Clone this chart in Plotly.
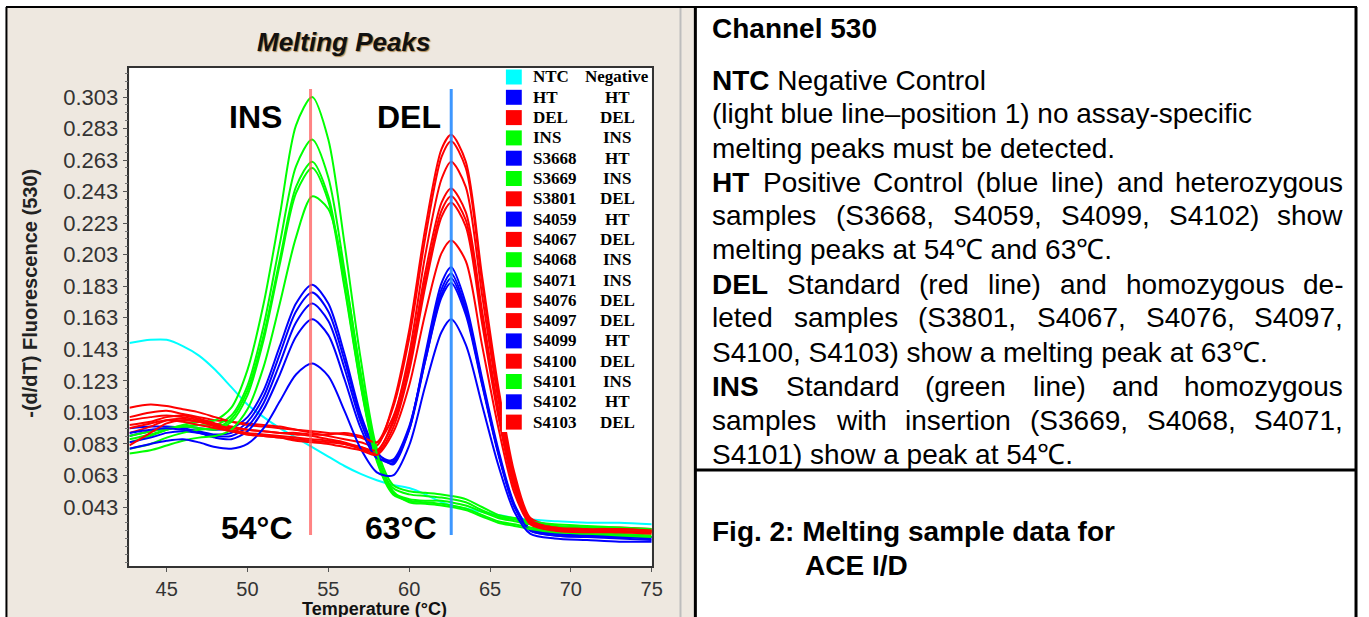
import plotly.graph_objects as go

W, H = 1369, 617

# ---------------- data ----------------
temps = [42.7, 44, 45, 46, 47, 48, 49, 50, 51, 52, 53, 54, 55, 56, 57, 58, 59, 60, 61, 62,
         62.6, 63.5, 64.5, 65.5, 66.5, 67.5, 69, 71, 73, 75]

ntc   = [0.147, 0.149, 0.149, 0.145, 0.139, 0.130, 0.119, 0.108, 0.100, 0.093, 0.087, 0.081, 0.075, 0.069, 0.064, 0.060, 0.057, 0.055, 0.051, 0.046, 0.044, 0.042, 0.040, 0.038, 0.036, 0.035, 0.034, 0.033, 0.033, 0.032]
ht    = [0.088, 0.091, 0.093, 0.094, 0.093, 0.092, 0.093, 0.100, 0.117, 0.145, 0.172, 0.184, 0.172, 0.140, 0.102, 0.078, 0.070, 0.092, 0.140, 0.185, 0.195, 0.172, 0.125, 0.080, 0.045, 0.029, 0.026, 0.025, 0.025, 0.024]
dele  = [0.100, 0.103, 0.104, 0.102, 0.100, 0.098, 0.097, 0.096, 0.095, 0.094, 0.092, 0.090, 0.088, 0.086, 0.084, 0.082, 0.108, 0.155, 0.220, 0.270, 0.279, 0.262, 0.190, 0.120, 0.065, 0.036, 0.031, 0.030, 0.030, 0.029]
ins   = [0.084, 0.088, 0.092, 0.095, 0.097, 0.098, 0.106, 0.130, 0.172, 0.228, 0.285, 0.303, 0.276, 0.210, 0.137, 0.080, 0.057, 0.053, 0.052, 0.051, 0.050, 0.048, 0.043, 0.038, 0.036, 0.034, 0.032, 0.031, 0.030, 0.029]
s3668 = [0.093, 0.094, 0.094, 0.093, 0.091, 0.089, 0.090, 0.097, 0.113, 0.140, 0.167, 0.179, 0.167, 0.136, 0.100, 0.077, 0.072, 0.092, 0.136, 0.178, 0.188, 0.167, 0.122, 0.078, 0.044, 0.029, 0.026, 0.025, 0.025, 0.024]
s3669 = [0.086, 0.089, 0.092, 0.094, 0.095, 0.095, 0.101, 0.120, 0.158, 0.210, 0.259, 0.276, 0.252, 0.193, 0.127, 0.076, 0.055, 0.051, 0.050, 0.049, 0.048, 0.046, 0.041, 0.037, 0.035, 0.033, 0.031, 0.030, 0.029, 0.028]
s3801 = [0.106, 0.108, 0.107, 0.105, 0.103, 0.100, 0.097, 0.095, 0.094, 0.093, 0.092, 0.091, 0.090, 0.089, 0.087, 0.084, 0.106, 0.150, 0.214, 0.265, 0.275, 0.258, 0.186, 0.116, 0.062, 0.035, 0.030, 0.029, 0.029, 0.028]
s4059 = [0.084, 0.087, 0.090, 0.091, 0.090, 0.088, 0.088, 0.094, 0.109, 0.134, 0.160, 0.172, 0.161, 0.131, 0.097, 0.075, 0.071, 0.093, 0.138, 0.181, 0.191, 0.169, 0.123, 0.078, 0.044, 0.028, 0.025, 0.024, 0.024, 0.023]
s4067 = [0.095, 0.097, 0.100, 0.101, 0.099, 0.096, 0.094, 0.092, 0.091, 0.090, 0.089, 0.088, 0.086, 0.084, 0.081, 0.078, 0.098, 0.140, 0.203, 0.251, 0.262, 0.246, 0.178, 0.112, 0.060, 0.034, 0.030, 0.029, 0.028, 0.028]
s4068 = [0.080, 0.083, 0.087, 0.090, 0.092, 0.093, 0.099, 0.117, 0.152, 0.200, 0.246, 0.262, 0.240, 0.184, 0.121, 0.073, 0.052, 0.048, 0.047, 0.047, 0.046, 0.044, 0.040, 0.036, 0.034, 0.032, 0.030, 0.029, 0.028, 0.027]
s4071 = [0.088, 0.091, 0.093, 0.094, 0.093, 0.092, 0.097, 0.114, 0.149, 0.197, 0.242, 0.258, 0.237, 0.182, 0.120, 0.072, 0.051, 0.047, 0.046, 0.045, 0.044, 0.042, 0.038, 0.034, 0.032, 0.030, 0.028, 0.027, 0.026, 0.025]
s4076 = [0.098, 0.100, 0.101, 0.100, 0.098, 0.095, 0.093, 0.092, 0.091, 0.090, 0.090, 0.089, 0.089, 0.090, 0.088, 0.084, 0.100, 0.136, 0.192, 0.236, 0.245, 0.230, 0.168, 0.106, 0.058, 0.034, 0.030, 0.029, 0.029, 0.028]
s4097 = [0.090, 0.094, 0.098, 0.099, 0.097, 0.094, 0.091, 0.089, 0.088, 0.087, 0.086, 0.085, 0.084, 0.083, 0.081, 0.079, 0.096, 0.132, 0.187, 0.231, 0.240, 0.225, 0.164, 0.104, 0.057, 0.033, 0.029, 0.028, 0.028, 0.027]
s4099 = [0.090, 0.092, 0.093, 0.092, 0.090, 0.087, 0.086, 0.091, 0.105, 0.127, 0.151, 0.162, 0.152, 0.124, 0.093, 0.074, 0.073, 0.094, 0.136, 0.176, 0.185, 0.165, 0.121, 0.077, 0.043, 0.028, 0.025, 0.024, 0.023, 0.022]
s4100 = [0.082, 0.090, 0.096, 0.098, 0.097, 0.095, 0.092, 0.090, 0.089, 0.088, 0.087, 0.086, 0.085, 0.083, 0.080, 0.077, 0.093, 0.129, 0.183, 0.227, 0.236, 0.221, 0.160, 0.101, 0.055, 0.033, 0.029, 0.028, 0.027, 0.027]
s4101 = [0.077, 0.079, 0.082, 0.085, 0.087, 0.088, 0.092, 0.105, 0.132, 0.172, 0.214, 0.240, 0.232, 0.190, 0.128, 0.077, 0.053, 0.046, 0.045, 0.044, 0.043, 0.041, 0.037, 0.033, 0.031, 0.029, 0.027, 0.026, 0.025, 0.024]
s4102 = [0.080, 0.083, 0.085, 0.086, 0.084, 0.081, 0.080, 0.083, 0.093, 0.110, 0.127, 0.134, 0.126, 0.104, 0.080, 0.065, 0.063, 0.082, 0.120, 0.154, 0.162, 0.146, 0.108, 0.070, 0.040, 0.026, 0.023, 0.022, 0.021, 0.021]
s4103 = [0.093, 0.096, 0.098, 0.097, 0.095, 0.093, 0.091, 0.089, 0.088, 0.087, 0.085, 0.084, 0.083, 0.081, 0.079, 0.076, 0.090, 0.120, 0.166, 0.204, 0.212, 0.199, 0.146, 0.094, 0.052, 0.032, 0.028, 0.027, 0.027, 0.026]

sample_names = ["NTC", "HT", "DEL", "INS", "S3668", "S3669", "S3801", "S4059", "S4067",
                "S4068", "S4071", "S4076", "S4097", "S4099", "S4100", "S4101", "S4102", "S4103"]
genotypes = ["Negative", "HT", "DEL", "INS", "HT", "INS", "DEL", "HT", "DEL",
             "INS", "INS", "DEL", "DEL", "HT", "DEL", "INS", "HT", "DEL"]
series = [ntc, ht, dele, ins, s3668, s3669, s3801, s4059, s4067,
          s4068, s4071, s4076, s4097, s4099, s4100, s4101, s4102, s4103]

genotype_colors = {"Negative": "#00FFFF", "HT": "#0000FF", "DEL": "#FF0000", "INS": "#00FF00"}

peak_temps = [53.9, 62.6]
peak_labels = ["54°C", "63°C"]
peak_colors = ["rgba(255,80,80,0.7)", "rgba(40,140,255,0.9)"]
peak_line_span = [0.0252, 0.308]

x_ticks = [45, 50, 55, 60, 65, 70, 75]
y_ticks = [0.043, 0.063, 0.083, 0.103, 0.123, 0.143, 0.163, 0.183, 0.203, 0.223, 0.243, 0.263, 0.283, 0.303]
y_tick_text = ["0.043", "0.063", "0.083", "0.103", "0.123", "0.143", "0.163", "0.183", "0.203",
               "0.223", "0.243", "0.263", "0.283", "0.303"]

# ---------------- helpers ----------------
def px(x):
    return x / W

def py(y):
    return 1 - y / H

SANS = "Liberation Sans, Arial, sans-serif"
SERIF = "Liberation Serif, Times New Roman, serif"

REG = dict(zip("abcdefghijklmnopqrstuvwxyz",
               [556, 556, 500, 556, 556, 278, 556, 556, 222, 222, 500, 222, 833, 556, 556, 556, 556, 333, 500, 278, 556, 500, 722, 500, 500, 500]))
REG.update(zip("ABCDEFGHIJKLMNOPQRSTUVWXYZ",
               [667, 667, 722, 722, 667, 611, 778, 722, 278, 500, 667, 556, 833, 722, 778, 667, 778, 722, 667, 611, 722, 667, 944, 667, 667, 611]))
REG.update({c: 556 for c in "0123456789"})
REG.update({" ": 278, "(": 333, ")": 333, ",": 278, ".": 278, "-": 333, "–": 556, "/": 278})
BOLD = dict(zip("abcdefghijklmnopqrstuvwxyz",
                [556, 611, 556, 611, 556, 333, 611, 611, 278, 278, 556, 278, 889, 611, 611, 611, 611, 389, 556, 333, 611, 556, 778, 556, 556, 500]))
BOLD.update(zip("ABCDEFGHIJKLMNOPQRSTUVWXYZ",
                [722, 722, 722, 722, 667, 611, 778, 722, 278, 556, 722, 611, 833, 722, 778, 667, 778, 722, 667, 611, 722, 667, 944, 667, 667, 611]))
BOLD.update({c: 556 for c in "0123456789"})
BOLD.update({" ": 278, "(": 333, ")": 333, ",": 278, ".": 278, "-": 333})


def text_w(s, bold, size):
    table = BOLD if bold else REG
    return sum(table.get(c, 556) for c in s) / 1000 * size


def pann(text, x, y, size, family=SANS, xanchor="center", yanchor="middle", **kw):
    return dict(text=text, x=px(x), y=py(y), xref="paper", yref="paper", xanchor=xanchor,
                yanchor=yanchor, showarrow=False, borderpad=0, borderwidth=0,
                font=dict(family=family, size=size, color=kw.pop("color", "black"), **kw.pop("fkw", {})),
                **kw)


# ---------------- figure ----------------
fig = go.Figure()

for name, geno, ys in zip(sample_names, genotypes, series):
    fig.add_trace(go.Scatter(x=temps, y=ys, mode="lines", name=name,
                             line=dict(color=genotype_colors[geno], width=2, shape="spline", smoothing=0.8),
                             showlegend=False, hoverinfo="skip"))

for t, c in zip(peak_temps, peak_colors):
    fig.add_trace(go.Scatter(x=[t, t], y=peak_line_span, mode="lines",
                             line=dict(color=c, width=3), showlegend=False, hoverinfo="skip"))

PLOT_L, PLOT_R, PLOT_T, PLOT_B = 130.5, 657, 68, 566

shapes = []
shapes.append(dict(type="rect", xref="paper", yref="paper", x0=px(6), x1=px(700), y0=0, y1=py(8),
                   fillcolor="#EEE8E0", line=dict(width=0), layer="below"))
shapes.append(dict(type="rect", xref="paper", yref="paper", x0=px(PLOT_L), x1=px(PLOT_R),
                   y0=py(PLOT_B), y1=py(PLOT_T), fillcolor="white", line=dict(width=0), layer="below"))
shapes.append(dict(type="line", xref="paper", yref="paper", x0=px(686), x1=px(686), y0=0, y1=py(8),
                   line=dict(color="#BDBDBD", width=2), layer="below"))
for (x0, y0, x1, y1, w) in [(6, 7, 1368, 7, 2), (6.5, 7, 6.5, 617, 2), (701, 7, 701, 617, 3),
                            (1367, 7, 1367, 617, 3), (701, 470, 1367, 470, 3)]:
    shapes.append(dict(type="line", xref="paper", yref="paper", x0=px(x0), x1=px(x1), y0=py(y0), y1=py(y1),
                       line=dict(color="black", width=w)))
shapes.append(dict(type="rect", xref="paper", yref="paper", x0=px(506), x1=px(656), y0=py(432), y1=py(69),
                   fillcolor="white", line=dict(width=0), layer="above"))

annotations = []
row0, drow = 77, 20.3
for i, (name, geno) in enumerate(zip(sample_names, genotypes)):
    yc = row0 + i * drow
    shapes.append(dict(type="rect", xref="paper", yref="paper", x0=px(510), x1=px(526),
                       y0=py(yc + 7.5), y1=py(yc - 7.5), fillcolor=genotype_colors[geno],
                       line=dict(width=0), layer="above"))
    annotations.append(pann(f"<b>{name}</b>", 537, yc, 17, family=SERIF, xanchor="left"))
    annotations.append(pann(f"<b>{geno}</b>", 622, yc, 17, family=SERIF))

# chart labels
annotations.append(pann("<b><i>Melting Peaks</i></b>", 346, 42, 26, color="#111",
                        fkw=dict(shadow="1px 1px 1px rgba(150,95,20,0.7)")))
annotations.append(pann("<b>-(d/dT) Fluorescence (530)</b>", 30, 293, 20, color="#222", textangle=-90))
annotations.append(pann("<b>Temperature (°C)</b>", 378, 609, 18, color="#111"))
annotations.append(dict(text="<b>INS</b>", x=50.5, y=0.2903, xref="x", yref="y", showarrow=False,
                        xanchor="center", yanchor="middle",
                        font=dict(family=SANS, size=32, color="black")))
annotations.append(dict(text="<b>DEL</b>", x=60.0, y=0.2903, xref="x", yref="y", showarrow=False,
                        xanchor="center", yanchor="middle",
                        font=dict(family=SANS, size=32, color="black")))
for t, lab in zip([50.6, 59.5], peak_labels):
    annotations.append(dict(text=f"<b>{lab}</b>", x=t, y=0.0297, xref="x", yref="y", showarrow=False,
                            xanchor="center", yanchor="middle",
                            font=dict(family=SANS, size=32, color="black")))

# right text panel
RS = 28
LX, RX = 718, 1354
panel_lines = [
    (80, [("NTC", True), ("Negative", False), ("Control", False)], False),
    (114, [(w, False) for w in "(light blue line–position 1) no assay-specific".split(" ")], False),
    (148, [(w, False) for w in "melting peaks must be detected.".split(" ")], False),
    (182, [("HT", True)] + [(w, False) for w in "Positive Control (blue line) and heterozygous".split(" ")], True),
    (216, [(w, False) for w in "samples (S3668, S4059, S4099, S4102) show".split(" ")], True),
    (250, [(w, False) for w in "melting peaks at 54℃ and 63℃.".split(" ")], False),
    (284, [("DEL", True)] + [(w, False) for w in "Standard (red line) and homozygous de-".split(" ")], True),
    (318, [(w, False) for w in "leted samples (S3801, S4067, S4076, S4097,".split(" ")], True),
    (352, [(w, False) for w in "S4100, S4103) show a melting peak at 63℃.".split(" ")], False),
    (386, [("INS", True)] + [(w, False) for w in "Standard (green line) and homozygous".split(" ")], True),
    (420, [(w, False) for w in "samples with insertion (S3669, S4068, S4071,".split(" ")], True),
    (454, [(w, False) for w in "S4101) show a peak at 54℃.".split(" ")], False),
]

def tag(w, b):
    return f"<b>{w}</b>" if b else w

for yc, words, justify in panel_lines:
    if not justify:
        txt = " ".join(tag(w, b) for w, b in words)
        annotations.append(pann(txt, LX, yc, RS, xanchor="left"))
    else:
        widths = [text_w(w, b, RS) for w, b in words]
        gap = (RX - LX - sum(widths)) / (len(words) - 1)
        x = LX
        for k, ((w, b), ww) in enumerate(zip(words, widths)):
            last = k == len(words) - 1
            annotations.append(pann(tag(w, b), RX if last else x, yc, RS,
                                    xanchor="right" if last else "left"))
            x += ww + gap

annotations.append(pann("<b>Channel 530</b>", LX, 29, RS, xanchor="left"))
annotations.append(pann("<b>Fig. 2: Melting sample data for</b>", LX, 531, RS, xanchor="left"))
annotations.append(pann("<b>ACE I/D</b>", 812, 565, RS, xanchor="left"))

y_bottom_val = 0.043 - (PLOT_B - 507) / 1577
y_top_val = 0.303 + (97 - PLOT_T) / 1577

fig.update_layout(
    width=W, height=H, margin=dict(l=0, r=0, t=0, b=0, pad=0),
    paper_bgcolor="white", plot_bgcolor="white",
    shapes=shapes, annotations=annotations,
    xaxis=dict(domain=[px(PLOT_L), px(PLOT_R)], range=[42.7, 75], tickvals=x_ticks,
               showline=True, mirror=True, linecolor="#333", linewidth=1.5,
               ticks="outside", ticklen=4, tickcolor="#555", showgrid=False, zeroline=False,
               tickfont=dict(family=SANS, size=20, color="#333")),
    yaxis=dict(domain=[py(PLOT_B), py(PLOT_T)], range=[y_bottom_val, y_top_val],
               tickvals=y_ticks, ticktext=y_tick_text,
               showline=True, mirror=True, linecolor="#333", linewidth=1.5,
               ticks="outside", ticklen=5, tickcolor="#555", showgrid=False, zeroline=False,
               tickfont=dict(family=SANS, size=22, color="#333"),
               minor=dict(tick0=0.003, dtick=0.005, ticks="outside", ticklen=3, tickcolor="#777")),
)

fig.write_html("out.html")
